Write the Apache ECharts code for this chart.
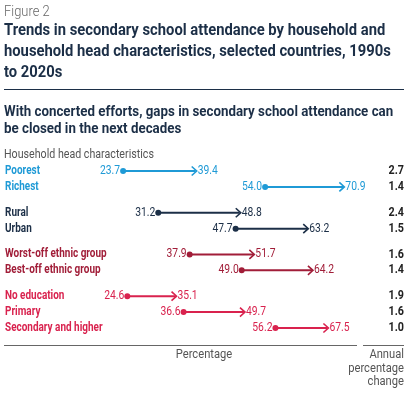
<!DOCTYPE html>
<html>
<head>
<meta charset="utf-8">
<script src="https://cdn.jsdelivr.net/npm/echarts@6/dist/echarts.min.js"></script>
<style>
  html, body { margin: 0; padding: 0; background: #fff; }
  #chart { width: 414px; height: 398px; }
</style>
</head>
<body>
<div id="chart"></div>
<script>
// data
var labels = ['Poorest', 'Richest', 'Rural', 'Urban', 'Worst-off ethnic group', 'Best-off ethnic group',
  'No education', 'Primary', 'Secondary and higher'];
var groups = [0, 0, 1, 1, 2, 2, 3, 3, 3];
var from1990s = [23.7, 54.0, 31.2, 47.7, 37.9, 49.0, 24.6, 36.6, 56.2];
var to2020s = [39.4, 70.9, 48.8, 63.2, 51.7, 64.2, 35.1, 49.7, 67.5];
var annualChange = ['2.7', '1.4', '2.4', '1.5', '1.6', '1.4', '1.9', '1.6', '1.0'];

var groupColors = ['#1f9ad6', '#1c2f47', '#a11d38', '#d9224e'];
var FONT = "Roboto, sans-serif";
var SX = 0.86; // squeeze Roboto to look like the condensed face
var GAP = 0.625;

var rows = labels.map(function (l, i) {
  return [from1990s[i], to2020s[i], i + groups[i] * GAP, i];
});

var chart = echarts.init(document.getElementById('chart'));

function txt(x, y, text, fill, font, align, sx) {
  return { type: 'text', x: x, y: y, scaleX: sx || SX,
    style: { text: text, fill: fill, font: font, align: align, verticalAlign: 'middle' } };
}

function renderItem(params, api) {
  var i = api.value(3);
  var p0 = api.coord([api.value(0), api.value(2)]);
  var p1 = api.coord([api.value(1), api.value(2)]);
  var c = groupColors[groups[i]];
  var y = p0[1];
  return {
    type: 'group',
    children: [
      { type: 'line', shape: { x1: p0[0], y1: y, x2: p1[0] - 1, y2: y },
        style: { stroke: c, lineWidth: 2 } },
      { type: 'polyline', shape: { points: [[p1[0] - 5, y - 4.5], [p1[0], y], [p1[0] - 5, y + 4.5]] },
        style: { stroke: c, lineWidth: 1.6, fill: null } },
      { type: 'circle', shape: { cx: p0[0], cy: y, r: 3 }, style: { fill: c } },
      txt(p0[0] - 3, y, from1990s[i].toFixed(1), c, '12px ' + FONT, 'right'),
      txt(p1[0] + 1, y, to2020s[i].toFixed(1), c, '12px ' + FONT, 'left'),
      txt(5, y, labels[i], c, 'bold 12px ' + FONT, 'left', 0.83),
      txt(404, y, annualChange[i], '#222', 'bold 12.5px ' + FONT, 'right')
    ]
  };
}

function block(x, y, text, fill, font, lh, align) {
  return { type: 'text', x: x, y: y, scaleX: SX,
    style: { text: text, fill: fill, font: font, lineHeight: lh, align: align || 'left' } };
}

var option = {
  animation: false,
  grid: { left: 12, top: 171, width: 375, height: 157 },
  xAxis: { type: 'value', min: 0, max: 80, show: false },
  yAxis: { type: 'value', min: 0, max: 8 + 3 * GAP, inverse: true, show: false },
  series: [{
    type: 'custom',
    renderItem: renderItem,
    data: rows,
    encode: { x: [0, 1], y: 2 }
  }],
  graphic: [
    block(4, 4, 'Figure 2', '#666', '300 15px ' + FONT, 16),
    block(4, 20, 'Trends in secondary school attendance by household and\nhousehold head characteristics, selected countries, 1990s\nto 2020s',
      '#1c2f47', 'bold 17.2px ' + FONT, 21),
    { type: 'line', shape: { x1: 4, y1: 89.5, x2: 404, y2: 89.5 }, style: { stroke: '#1c2f47', lineWidth: 1 } },
    block(4, 104, 'With concerted efforts, gaps in secondary school attendance can\nbe closed in the next decades',
      '#1c2f47', 'bold 15.5px ' + FONT, 17),
    block(4, 148, 'Household head characteristics', '#555', '12.4px ' + FONT, 14),
    { type: 'line', shape: { x1: 4, y1: 345.5, x2: 357, y2: 345.5 }, style: { stroke: '#666', lineWidth: 1 } },
    { type: 'line', shape: { x1: 363, y1: 345.5, x2: 404, y2: 345.5 }, style: { stroke: '#666', lineWidth: 1 } },
    block(204, 348, 'Percentage', '#555', '13px ' + FONT, 14, 'center'),
    block(404, 348, 'Annual\npercentage\nchange', '#555', '13px ' + FONT, 13.5, 'right')
  ]
};

chart.setOption(option);
</script>
</body>
</html>
